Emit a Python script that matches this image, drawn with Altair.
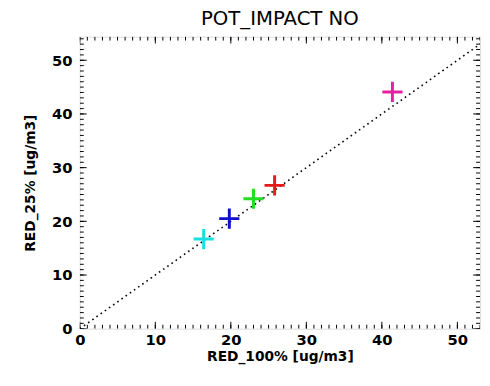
import altair as alt
import pandas as pd

# data
red100 = [41.4, 25.8, 23.0, 19.8, 16.4]
red25 = [44.1, 26.7, 24.2, 20.5, 16.7]
series = ["s1", "s2", "s3", "s4", "s5"]
colors = ["#e8209f", "#e41a1a", "#22dd22", "#1010cc", "#19e0e0"]
line_x = [0, 54]
line_y = [0, 54]
major_ticks = [0, 10, 20, 30, 40, 50]
minor_ticks = list(range(0, 55))

W, H = 407, 297
xs = alt.Scale(domain=[0, 53], nice=False, zero=False)
ys = alt.Scale(domain=[0, 54.4], nice=False, zero=False)

lab_font = "DejaVu Sans"
xaxis = alt.Axis(values=major_ticks, ticks=False, domain=False, grid=False,
                 labelFont=lab_font, labelFontSize=15, labelFontWeight="bold",
                 labelColor="black", labelPadding=4, labelFlush=False,
                 titleFont=lab_font, titleFontSize=14, titleFontWeight="bold",
                 titleColor="black", titlePadding=2)
yaxis = alt.Axis(values=major_ticks, ticks=False, domain=False, grid=False,
                 labelFont=lab_font, labelFontSize=15, labelFontWeight="bold",
                 labelColor="black", labelPadding=8, labelFlush=False,
                 titleFont=lab_font, titleFontSize=14, titleFontWeight="bold",
                 titleColor="black", titlePadding=14)
XT = "RED_100% [ug/m3]"
YT = "RED_25% [ug/m3]"


def X(f):
    return alt.X(f, type="quantitative", scale=xs, axis=xaxis, title=XT)


def Y(f):
    return alt.Y(f, type="quantitative", scale=ys, axis=yaxis, title=YT)


pts = pd.DataFrame({"x": red100, "y": red25, "s": series})
ref = pd.DataFrame({"x": line_x, "y": line_y})
maj = pd.DataFrame({"v": major_ticks})
mnr = pd.DataFrame({"v": minor_ticks})

line = alt.Chart(ref).mark_line(color="black", strokeWidth=1.6,
                                strokeDash=[1.6, 3.6], clip=True).encode(
    x=X("x"), y=Y("y"))

points = alt.Chart(pts).mark_point(shape="M-1,0L1,0M0,-1L0,1", size=420,
                                   strokeWidth=3, filled=False, opacity=1).encode(
    x=X("x"), y=Y("y"),
    color=alt.Color("s:N", scale=alt.Scale(domain=series, range=colors), legend=None))

tick_layers = []
for df, ln in [(maj, 7), (mnr, 4)]:
    base = alt.Chart(df).mark_rule(color="black", strokeWidth=1, clip=True)
    tick_layers.append(base.encode(x=X("v"), y=alt.value(H), y2=alt.value(H - ln)))
    tick_layers.append(base.encode(x=X("v"), y=alt.value(0), y2=alt.value(ln)))
    tick_layers.append(base.encode(y=Y("v"), x=alt.value(0), x2=alt.value(ln)))
    tick_layers.append(base.encode(y=Y("v"), x=alt.value(W), x2=alt.value(W - ln)))

chart = alt.layer(line, *tick_layers, points).properties(
    width=W, height=H,
    title=alt.TitleParams("POT_IMPACT NO", font="DejaVu Sans", fontSize=20,
                          fontWeight="normal", color="black", offset=8, anchor="middle"),
    autosize=alt.AutoSizeParams(type="none"),
    padding={"left": 73, "top": 26, "right": 2, "bottom": 47},
).configure_view(stroke="black", strokeWidth=1.5).configure(background="white")

chart.save("out.html", embed_options={"renderer": "svg", "actions": False})
